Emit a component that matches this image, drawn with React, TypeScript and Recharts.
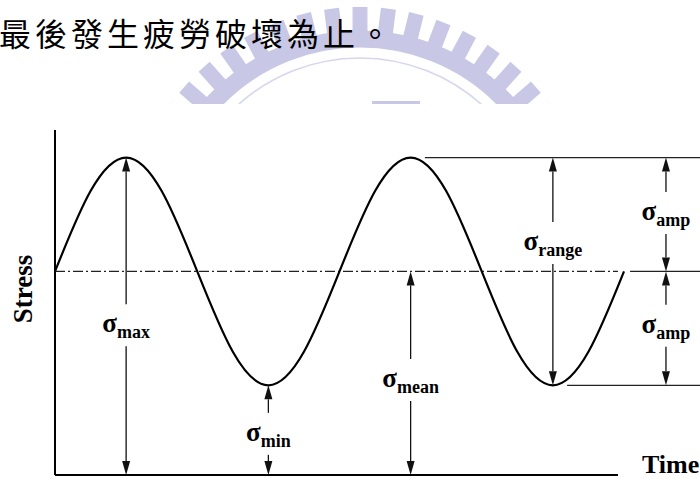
import { Line, LineChart, ReferenceLine, XAxis, YAxis } from "recharts"

// one sample every eighth of a cycle, two full cycles
const time = [0, 1, 2, 3, 4, 5, 6, 7, 8, 9, 10, 11, 12, 13, 14, 15, 16]
const stress = [59, 82.3, 92, 82.3, 59, 35.7, 26, 35.7, 59, 82.3, 92, 82.3, 59, 35.7, 26, 35.7, 59]

const sigmaMax = 92
const sigmaMean = 59
const sigmaMin = 26

// where the drawn axis / guide lines stop on the time scale
const axisEnd = 15.83
const rightEdge = 18.2
const peakLineStart = 10.4
const troughLineStart = 14.4
const meanLineResume = 16.17
const ampTime = 17.18

type ArrowSpec = { name: string; t: number; from: number; to: number; labelAt: number }

const arrows: ArrowSpec[] = [
  { name: "max", t: 2, from: sigmaMax, to: 0, labelAt: 41.4 },
  { name: "min", t: 6, from: sigmaMin, to: 0, labelAt: 9.9 },
  { name: "mean", t: 10, from: sigmaMean, to: 0, labelAt: 25.5 },
  { name: "range", t: 14, from: sigmaMax, to: sigmaMin, labelAt: 65.2 },
  { name: "amp", t: ampTime, from: sigmaMax, to: sigmaMean, labelAt: 73.9 },
  { name: "amp", t: ampTime, from: sigmaMean, to: sigmaMin, labelAt: 41.2 },
]

const data = time.map((t, i) => ({ t, stress: stress[i] }))

const serif = '"Liberation Serif", "Times New Roman", serif'
const ink = "#111"
const lavender = "#c8c8e6"

function Watermark() {
  const cx = 360
  const cy = 240
  const ticks = []
  for (let a = -63; a <= 63; a += 7) {
    const r = (a * Math.PI) / 180
    const s = Math.sin(r)
    const c = Math.cos(r)
    ticks.push(
      <line
        key={a}
        x1={cx + 206 * s}
        y1={cy - 206 * c}
        x2={cx + 233 * s}
        y2={cy - 233 * c}
        stroke={lavender}
        strokeWidth={15}
      />
    )
  }
  return (
    <svg width={700} height={104} style={{ position: "absolute", left: 0, top: 0 }}>
      <circle cx={cx} cy={cy} r={201} fill="none" stroke={lavender} strokeWidth={17} />
      {ticks}
      <circle cx={cx} cy={cy} r={182} fill="none" stroke="#d6d6ee" strokeWidth={1.6} />
      <rect x={372} y={101} width={48} height={3} fill={lavender} />
    </svg>
  )
}

function arrowShape(a: ArrowSpec) {
  return (props: any) => {
    const { x1, y1, x2, y2 } = props
    const f = (a.from - a.labelAt) / (a.from - a.to)
    const base = y1 + f * (y2 - y1)
    const head = 14
    const half = 4
    return (
      <g>
        <line x1={x1} y1={y1 + head} x2={x1} y2={base - 28} stroke={ink} strokeWidth={1.3} />
        <polygon points={`${x1},${y1} ${x1 - half},${y1 + head} ${x1 + half},${y1 + head}`} fill={ink} />
        <line x1={x2} y1={base + 14} x2={x2} y2={y2 - head} stroke={ink} strokeWidth={1.3} />
        <polygon points={`${x2},${y2} ${x2 - half},${y2 - head} ${x2 + half},${y2 - head}`} fill={ink} />
        <text x={x1} y={base} textAnchor="middle" fontFamily={serif} fontWeight="bold" fill="#000">
          <tspan fontSize={27}>σ</tspan>
          <tspan fontSize={18} dy={6}>
            {a.name}
          </tspan>
        </text>
      </g>
    )
  }
}

function StressTitle(props: any) {
  const vb = props.viewBox ?? { x: 55, y: 130 }
  const x = vb.x - 23
  const y = vb.y + 159
  return (
    <text
      x={x}
      y={y}
      transform={`rotate(-90 ${x} ${y})`}
      textAnchor="middle"
      fontFamily={serif}
      fontWeight="bold"
      fontSize={27}
      fill="#000"
    >
      Stress
    </text>
  )
}

function TimeTitle(props: any) {
  const vb = props.viewBox ?? { x: 55, y: 475, width: 563 }
  return (
    <text x={vb.x + vb.width + 24} y={vb.y - 2} fontFamily={serif} fontWeight="bold" fontSize={26} fill="#000">
      Time
    </text>
  )
}

export default function App() {
  return (
    <div
      style={{
        position: "absolute",
        left: 0,
        top: 0,
        width: 700,
        height: 479,
        background: "#fff",
        overflow: "hidden",
      }}
    >
      <Watermark />
      <div style={{ position: "absolute", left: 0, top: 0 }}>
        <LineChart width={700} height={479} data={data} margin={{ top: 130, right: 76, bottom: 4, left: 55 }}>
          <XAxis dataKey="t" type="number" domain={[0, 16]} hide />
          <YAxis type="number" domain={[0, 100]} hide />
          {/* stress axis */}
          <ReferenceLine
            segment={[
              { x: 0, y: 0 },
              { x: 0, y: 100 },
            ]}
            stroke="#000"
            strokeWidth={2}
            label={<StressTitle />}
          />
          {/* time axis */}
          <ReferenceLine
            segment={[
              { x: 0, y: 0 },
              { x: axisEnd, y: 0 },
            ]}
            stroke="#000"
            strokeWidth={2}
            label={<TimeTitle />}
          />
          <ReferenceLine
            segment={[
              { x: 0, y: sigmaMean },
              { x: axisEnd, y: sigmaMean },
            ]}
            stroke="#222"
            strokeWidth={1.2}
            strokeDasharray="10 3 2 3"
          />
          <ReferenceLine
            segment={[
              { x: meanLineResume, y: sigmaMean },
              { x: rightEdge, y: sigmaMean },
            ]}
            stroke="#222"
            strokeWidth={1.2}
            ifOverflow="visible"
          />
          <ReferenceLine
            segment={[
              { x: peakLineStart, y: sigmaMax },
              { x: rightEdge, y: sigmaMax },
            ]}
            stroke="#222"
            strokeWidth={1.2}
            ifOverflow="visible"
          />
          <ReferenceLine
            segment={[
              { x: troughLineStart, y: sigmaMin },
              { x: rightEdge, y: sigmaMin },
            ]}
            stroke="#222"
            strokeWidth={1.2}
            ifOverflow="visible"
          />
          {arrows.map((a, i) => (
            <ReferenceLine
              key={i}
              segment={[
                { x: a.t, y: a.from },
                { x: a.t, y: a.to },
              ]}
              ifOverflow="visible"
              shape={arrowShape(a)}
            />
          ))}
          <Line
            type="natural"
            dataKey="stress"
            stroke="#000"
            strokeWidth={2.2}
            dot={false}
            isAnimationActive={false}
          />
        </LineChart>
      </div>
      <svg width={700} height={60} style={{ position: "absolute", left: 0, top: 0 }}>
        <text x={-1} y={46} fontFamily='"Noto Sans CJK TC", "Noto Sans CJK SC", serif' fontSize={32} letterSpacing={4} fill="#000">
          最後發生疲勞破壞為止。
        </text>
      </svg>
    </div>
  )
}
